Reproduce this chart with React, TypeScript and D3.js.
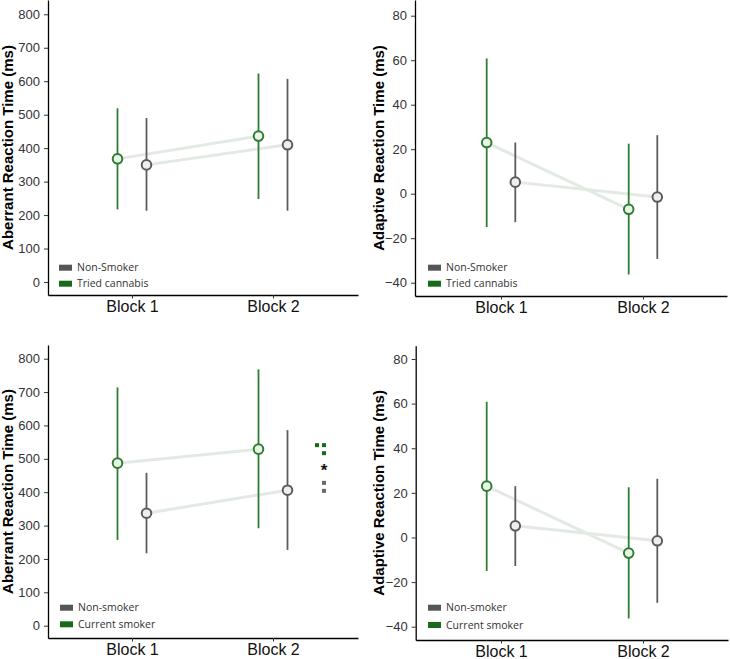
import { useRef, useEffect } from "react";
import * as d3 from "d3";

// categories and labels
const blocks = ["Block 1", "Block 2"];
const triedGroups = ["Non-Smoker", "Tried cannabis"];
const currentGroups = ["Non-smoker", "Current smoker"];
const aberrantTicks = [0, 100, 200, 300, 400, 500, 600, 700, 800];
const adaptiveTicks = [-40, -20, 0, 20, 40, 60, 80];

// aberrant RT, non-smoker vs tried cannabis
const abTriedNonMean = [350, 410];
const abTriedNonLo = [213, 213];
const abTriedNonHi = [490, 607];
const abTriedMean = [368, 436];
const abTriedLo = [217, 248];
const abTriedHi = [519, 623];

// adaptive RT, non-smoker vs tried cannabis
const adTriedNonMean = [5.2, -1.5];
const adTriedNonLo = [-12.8, -29.3];
const adTriedNonHi = [23, 26.3];
const adTriedMean = [23, -7];
const adTriedLo = [-15, -36.3];
const adTriedHi = [60.8, 22.5];

// aberrant RT, non-smoker vs current smoker
const abCurNonMean = [337, 406];
const abCurNonLo = [217, 227];
const abCurNonHi = [458, 586];
const abCurMean = [487, 529];
const abCurLo = [257, 292];
const abCurHi = [714, 768];

// adaptive RT, non-smoker vs current smoker
const adCurNonMean = [5.2, -1.5];
const adCurNonLo = [-12.8, -29.3];
const adCurNonHi = [23, 26.3];
const adCurMean = [23, -7];
const adCurLo = [-15, -36.3];
const adCurHi = [60.8, 22.5];

// significance marker values (block 2, aberrant / current smoker)
const sigGreenTop = [541];
const sigGreen = [541, 517];
const sigStar = [475];
const sigGray = [428, 404];

const GREEN = "#2f7d32";
const GREEN_DARK = "#176b1b";
const GRAY = "#5c5c5c";
const GRAY_DARK = "#555555";

type Series = { mean: number[]; lo: number[]; hi: number[] };

type PanelCfg = {
  axisX: number;
  top: number;
  bottom: number;
  right: number;
  domain: [number, number];
  range: [number, number];
  ticks: number[];
  bx: [number, number];
  dodge: number;
  title: string;
  titleX: number;
  groups: string[];
  legX: number;
  legY: [number, number];
  non: Series;
  smk: Series;
  sig?: boolean;
};

const panels: PanelCfg[] = [
  {
    axisX: 48, top: 0, bottom: 295, right: 358,
    domain: [0, 800], range: [282, 14.3], ticks: aberrantTicks,
    bx: [132, 273], dodge: 14.5,
    title: "Aberrant Reaction Time (ms)", titleX: 13,
    groups: triedGroups, legX: 59, legY: [267.7, 283.7],
    non: { mean: abTriedNonMean, lo: abTriedNonLo, hi: abTriedNonHi },
    smk: { mean: abTriedMean, lo: abTriedLo, hi: abTriedHi },
  },
  {
    axisX: 415, top: 0, bottom: 296, right: 727,
    domain: [-40, 80], range: [282.7, 15.7], ticks: adaptiveTicks,
    bx: [501, 643], dodge: 14.3,
    title: "Adaptive Reaction Time (ms)", titleX: 383.5,
    groups: triedGroups, legX: 428, legY: [267.7, 283.7],
    non: { mean: adTriedNonMean, lo: adTriedNonLo, hi: adTriedNonHi },
    smk: { mean: adTriedMean, lo: adTriedLo, hi: adTriedHi },
  },
  {
    axisX: 48, top: 345, bottom: 638, right: 358,
    domain: [0, 800], range: [625.7, 358.7], ticks: aberrantTicks,
    bx: [132, 273], dodge: 14.5,
    title: "Aberrant Reaction Time (ms)", titleX: 13,
    groups: currentGroups, legX: 60, legY: [607.7, 624.3],
    non: { mean: abCurNonMean, lo: abCurNonLo, hi: abCurNonHi },
    smk: { mean: abCurMean, lo: abCurLo, hi: abCurHi },
    sig: true,
  },
  {
    axisX: 415.7, top: 345.7, bottom: 640, right: 728,
    domain: [-40, 80], range: [626.7, 359], ticks: adaptiveTicks,
    bx: [501, 643], dodge: 14.3,
    title: "Adaptive Reaction Time (ms)", titleX: 383.5,
    groups: currentGroups, legX: 428, legY: [607.7, 625],
    non: { mean: adCurNonMean, lo: adCurNonLo, hi: adCurNonHi },
    smk: { mean: adCurMean, lo: adCurLo, hi: adCurHi },
  },
];

const drawPanel = (
  svg: d3.Selection<SVGSVGElement, unknown, null, undefined>,
  p: PanelCfg
) => {
  const g = svg.append("g");

  // y scale, extended so the axis line runs the full panel height
  const y0 = d3.scaleLinear().domain(p.domain).range(p.range);
  const y = d3
    .scaleLinear()
    .domain([y0.invert(p.bottom), y0.invert(p.top)])
    .range([p.bottom, p.top]);

  // x scale over block index, extended to the panel width
  const x0 = d3.scaleLinear().domain([0, 1]).range(p.bx);
  const x = d3
    .scaleLinear()
    .domain([x0.invert(p.axisX), x0.invert(p.right)])
    .range([p.axisX, p.right]);

  // y axis
  const ya = g
    .append("g")
    .attr("transform", `translate(${p.axisX},0)`)
    .call(
      d3.axisLeft(y).tickValues(p.ticks).tickSize(4).tickPadding(4).tickSizeOuter(0)
    );
  ya.select(".domain").attr("stroke", "#000").attr("stroke-width", 1.3);
  ya.selectAll(".tick line").attr("stroke", "#333").attr("stroke-width", 1);
  ya.selectAll(".tick text")
    .attr("fill", "#333")
    .style("font-family", "'Liberation Sans', Arial, sans-serif")
    .style("font-size", "13px");

  // x axis
  const xa = g
    .append("g")
    .attr("transform", `translate(0,${p.bottom})`)
    .call(
      d3
        .axisBottom(x)
        .tickValues([0, 1])
        .tickFormat((d) => blocks[d as number])
        .tickSize(3.5)
        .tickPadding(2.5)
        .tickSizeOuter(0)
    );
  xa.select(".domain").attr("stroke", "#000").attr("stroke-width", 1.3);
  xa.selectAll(".tick line").attr("stroke", "#333").attr("stroke-width", 1);
  xa.selectAll(".tick text")
    .attr("fill", "#111")
    .style("font-family", "'Liberation Sans', Arial, sans-serif")
    .style("font-size", "16px");

  // y title
  g.append("text")
    .attr("transform", `translate(${p.titleX},${(p.top + p.bottom) / 2}) rotate(-90)`)
    .attr("text-anchor", "middle")
    .style("font-family", "'Liberation Sans', Arial, sans-serif")
    .style("font-size", "15px")
    .style("font-weight", "bold")
    .attr("fill", "#000")
    .text(p.title);

  const series = [
    { s: p.smk, off: -p.dodge, col: GREEN, fill: "#e9f5e6" },
    { s: p.non, off: p.dodge, col: GRAY, fill: "#eeeeee" },
  ];

  // connecting lines
  const line = d3
    .line<number>()
    .x((_, i) => x(i))
    .y((d) => y(d));
  series.forEach(({ s, off }) => {
    g.append("path")
      .datum(s.mean)
      .attr("transform", `translate(${off},0)`)
      .attr("d", line)
      .attr("fill", "none")
      .attr("stroke", "#e3eae3")
      .attr("stroke-width", 3);
  });

  // error bars
  series.forEach(({ s, off, col }) => {
    g.selectAll(null)
      .data(s.mean)
      .enter()
      .append("line")
      .attr("x1", (_, i) => x(i) + off)
      .attr("x2", (_, i) => x(i) + off)
      .attr("y1", (_, i) => y(s.lo[i]))
      .attr("y2", (_, i) => y(s.hi[i]))
      .attr("stroke", col)
      .attr("stroke-width", 1.8);
  });

  // points
  series.forEach(({ s, off, col, fill }) => {
    g.selectAll(null)
      .data(s.mean)
      .enter()
      .append("circle")
      .attr("cx", (_, i) => x(i) + off)
      .attr("cy", (d) => y(d))
      .attr("r", 4.8)
      .attr("fill", fill)
      .attr("stroke", col)
      .attr("stroke-width", 2);
  });

  // legend
  const legCols = [GRAY_DARK, GREEN_DARK];
  p.groups.forEach((name, i) => {
    g.append("rect")
      .attr("x", p.legX)
      .attr("y", p.legY[i] - 3)
      .attr("width", 13)
      .attr("height", 6)
      .attr("fill", legCols[i]);
    g.append("text")
      .attr("x", p.legX + 18)
      .attr("y", p.legY[i] + 3.7)
      .style("font-family", "'Open Sans', 'Noto Sans', sans-serif")
      .style("font-size", "10.5px")
      .attr("fill", "#333")
      .text(name);
  });

  // significance marker
  if (p.sig) {
    const sx = x(1) + 51;
    g.selectAll(null)
      .data(sigGreenTop)
      .enter()
      .append("rect")
      .attr("x", sx - 7 - 2)
      .attr("y", (d) => y(d) - 2)
      .attr("width", 4)
      .attr("height", 4)
      .attr("fill", GREEN_DARK);
    g.selectAll(null)
      .data(sigGreen)
      .enter()
      .append("rect")
      .attr("x", sx - 2)
      .attr("y", (d) => y(d) - 2)
      .attr("width", 4)
      .attr("height", 4)
      .attr("fill", GREEN_DARK);
    g.selectAll(null)
      .data(sigStar)
      .enter()
      .append("text")
      .attr("x", sx)
      .attr("y", (d) => y(d) + 9)
      .attr("text-anchor", "middle")
      .style("font-family", "'Liberation Sans', Arial, sans-serif")
      .style("font-size", "17px")
      .style("font-weight", "bold")
      .attr("fill", "#111")
      .text("*");
    g.selectAll(null)
      .data(sigGray)
      .enter()
      .append("rect")
      .attr("x", sx - 2)
      .attr("y", (d) => y(d) - 2)
      .attr("width", 4)
      .attr("height", 4)
      .attr("fill", "#6a6a6a");
  }
};

const App = () => {
  const svgRef = useRef<SVGSVGElement | null>(null);

  useEffect(() => {
    if (!svgRef.current) return;
    const svg = d3.select(svgRef.current);
    svg.selectAll("*").remove();
    svg
      .append("rect")
      .attr("width", 730)
      .attr("height", 659)
      .attr("fill", "#fff");
    panels.forEach((p) => drawPanel(svg, p));
  }, []);

  return (
    <svg
      ref={svgRef}
      width={730}
      height={659}
      style={{ position: "absolute", left: 0, top: 0 }}
    ></svg>
  );
};

export default App;
